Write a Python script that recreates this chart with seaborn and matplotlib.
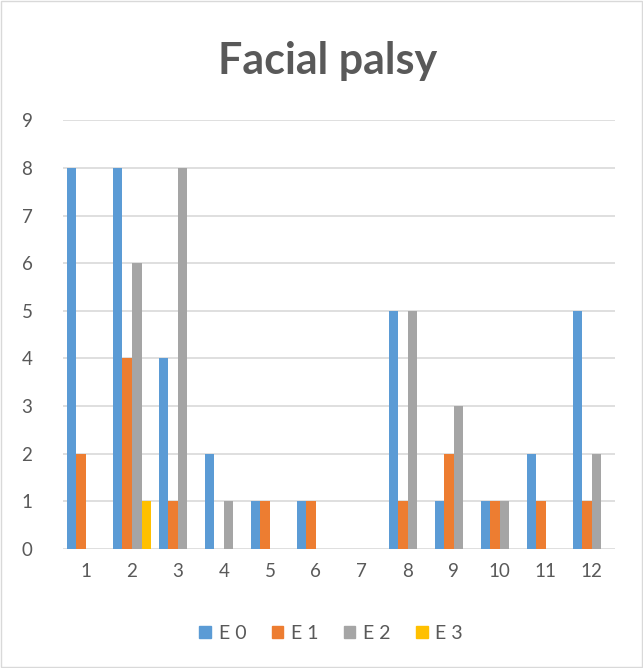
import pandas as pd
import seaborn as sns
import matplotlib.pyplot as plt
from matplotlib.patches import Rectangle

groups = ['1', '2', '3', '4', '5', '6', '7', '8', '9', '10', '11', '12']
e0 = [8, 8, 4, 2, 1, 1, 0, 5, 1, 1, 2, 5]
e1 = [2, 4, 1, 0, 1, 1, 0, 1, 2, 1, 1, 1]
e2 = [0, 6, 8, 1, 0, 0, 0, 5, 3, 1, 0, 2]
e3 = [0, 1, 0, 0, 0, 0, 0, 0, 0, 0, 0, 0]
series = ['E 0', 'E 1', 'E 2', 'E 3']
colors = ['#5B9BD5', '#ED7D31', '#A5A5A5', '#FFC000']

rows = []
for name, vals in zip(series, [e0, e1, e2, e3]):
    for g, v in zip(groups, vals):
        rows.append({'group': g, 'series': name, 'value': v})
df = pd.DataFrame(rows)

sns.set_style('white')
plt.rcParams['font.family'] = ['Lato', 'DejaVu Sans']
txt = '#595959'

fig = plt.figure(figsize=(6.43, 6.68), dpi=100)
ax = fig.add_axes([0.098, 0.178, 0.858, 0.642])

sns.barplot(data=df, x='group', y='value', hue='series', order=groups,
            hue_order=series, palette=colors, width=0.83, saturation=1,
            linewidth=0, legend=False, ax=ax)

ax.set_ylim(0, 9)
ax.set_yticks(range(0, 10))
ax.set_xlim(-0.5, 11.5)
ax.grid(axis='y', color='#D9D9D9', linewidth=1.2)
ax.set_axisbelow(True)
for s in ax.spines.values():
    s.set_visible(False)
ax.tick_params(axis='both', length=0, labelsize=13.5, colors=txt, pad=10)
ax.tick_params(axis='y', pad=22)
ax.set_xlabel('')
ax.set_ylabel('')

fig.text(0.51, 0.908, 'Facial palsy', ha='center', va='center',
         fontsize=31, fontweight='bold', color=txt)

handles = [Rectangle((0, 0), 1, 1, color=c) for c in colors]
fig.legend(handles, series, loc='center', bbox_to_anchor=(0.515, 0.052),
           ncol=4, frameon=False, fontsize=14, labelcolor=txt,
           handlelength=0.6, handleheight=0.6, handletextpad=0.4,
           columnspacing=1.3)

fig.patches.append(Rectangle((0.002, 0.002), 0.996, 0.996, transform=fig.transFigure,
                             fill=False, edgecolor='#D9D9D9', linewidth=1))

plt.savefig('out.png', dpi=100)
